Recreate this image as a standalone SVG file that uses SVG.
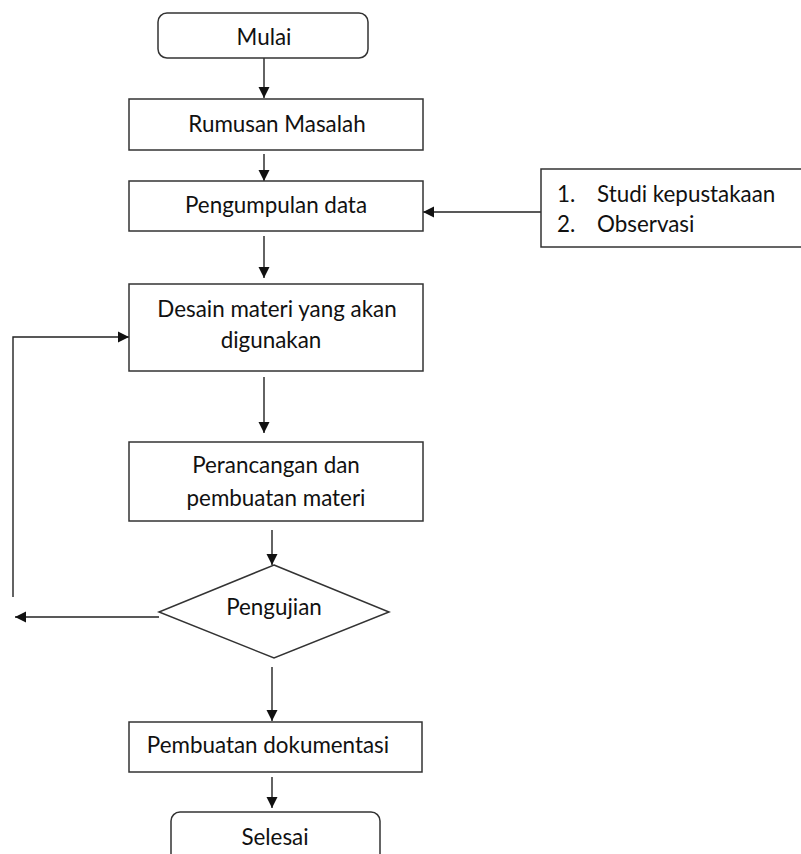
<svg xmlns="http://www.w3.org/2000/svg" width="801" height="854" viewBox="0 0 801 854">
<defs>
<marker id="ah" markerWidth="12" markerHeight="12" refX="11" refY="6" orient="auto" markerUnits="userSpaceOnUse">
<path d="M0,0.5 L11,6 L0,11.5 Z" fill="#111"/>
</marker>
<style>
.box{fill:#fff;stroke:#333;stroke-width:1.5}
.ln{fill:none;stroke:#222;stroke-width:1.4}
.arr{fill:none;stroke:#222;stroke-width:1.4;marker-end:url(#ah)}
text{font-family:Lato,"Liberation Sans",sans-serif;font-size:22.4px;fill:#111}
.c{text-anchor:middle}
</style>
</defs>
<rect width="801" height="854" fill="#fff"/>
<g id="connectors">
<line class="arr" x1="264" y1="58" x2="264" y2="98"/>
<line class="arr" x1="264" y1="154" x2="264" y2="181"/>
<line class="arr" x1="264" y1="236" x2="264" y2="278"/>
<line class="arr" x1="264" y1="377" x2="264" y2="433"/>
<line class="arr" x1="272" y1="530" x2="272" y2="565"/>
<line class="arr" x1="272" y1="667" x2="272" y2="721"/>
<line class="arr" x1="272" y1="777" x2="272" y2="808"/>
<line class="arr" x1="541" y1="212" x2="423" y2="212"/>
<line class="arr" x1="159" y1="617" x2="15" y2="617"/>
<polyline class="arr" points="13,597 13,337 129,337"/>
</g>
<g id="mulai"><rect class="box" x="158" y="13" width="210" height="45" rx="9"/><text class="c" x="264" y="45">Mulai</text></g>
<g id="rumusan"><rect class="box" x="129" y="99" width="294" height="51"/><text class="c" x="277" y="132">Rumusan Masalah</text></g>
<g id="pengumpulan"><rect class="box" x="129" y="181" width="294" height="50"/><text class="c" x="276" y="213">Pengumpulan data</text></g>
<g id="sumber"><rect class="box" x="541" y="169" width="280" height="78"/><text x="557" y="202">1.</text><text x="597" y="202">Studi kepustakaan</text><text x="557" y="232">2.</text><text x="597" y="232">Observasi</text></g>
<g id="desain"><rect class="box" x="129" y="284" width="294" height="87"/><text class="c" x="277" y="317">Desain materi yang akan</text><text class="c" x="271" y="348">digunakan</text></g>
<g id="perancangan"><rect class="box" x="129" y="442" width="294" height="79"/><text class="c" x="276" y="473">Perancangan dan</text><text class="c" x="276" y="506">pembuatan materi</text></g>
<g id="pengujian"><polygon class="box" points="274,565 389,612 274,658 159,612"/><text class="c" x="274" y="615">Pengujian</text></g>
<g id="dokumentasi"><rect class="box" x="129" y="722" width="293" height="50"/><text class="c" x="268" y="753">Pembuatan dokumentasi</text></g>
<g id="selesai"><rect class="box" x="171" y="812" width="209" height="60" rx="9"/><text class="c" x="275" y="845">Selesai</text></g>
</svg>
